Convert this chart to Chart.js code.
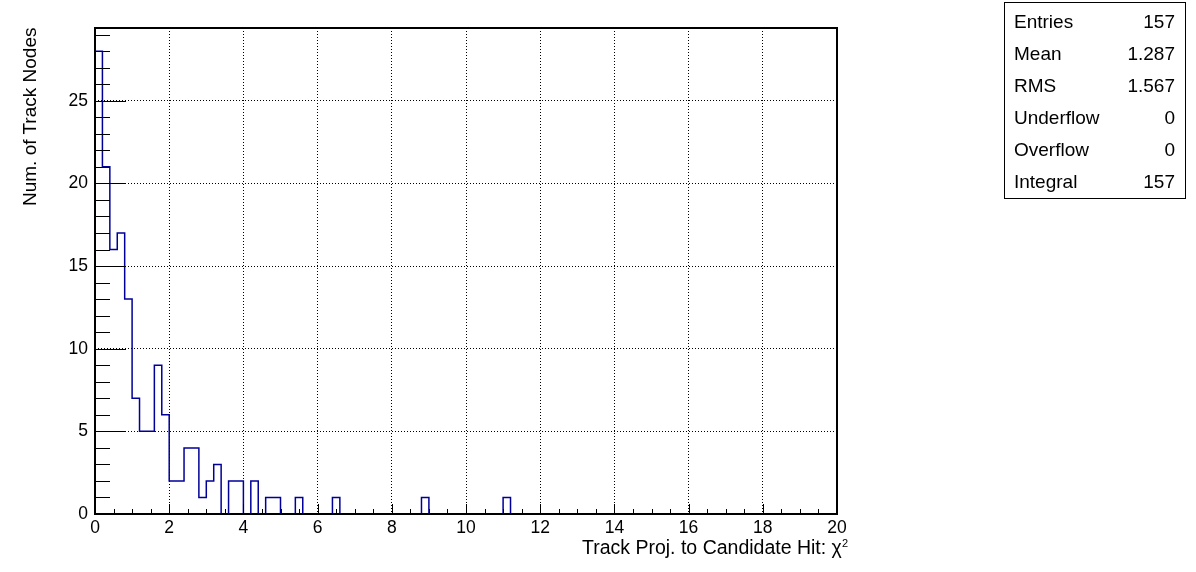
<!DOCTYPE html>
<html>
<head>
<meta charset="utf-8">
<script src="https://cdn.jsdelivr.net/npm/chart.js@4"></script>
<style>
  body { margin: 0; background: #fff; }
  #wrap { position: relative; width: 1196px; height: 572px; font-family: "Liberation Sans", Arial, sans-serif; }
  #stats { position: absolute; left: 1004px; top: 2px; width: 182px; height: 197px; border: 1px solid #000; box-sizing: border-box; font-size: 19px; color: #000; }
  .row { position: absolute; left: 9px; right: 10px; height: 22px; }
  .row span:last-child { position: absolute; right: 0; }
  #ytitle { position: absolute; left: 19px; top: 28px; font-size: 19px; line-height: 22px; white-space: nowrap; transform-origin: 0 0; }
  #xtitle { position: absolute; right: 348px; top: 536px; font-size: 19.5px; white-space: nowrap; }
  #xtitle sup { font-size: 11px; vertical-align: 7px; }
</style>
</head>
<body>
<div id="wrap">
  <canvas id="c" width="1196" height="572"></canvas>
  <div id="ytitle">Num. of Track Nodes</div>
  <div id="xtitle">Track Proj. to Candidate Hit: χ<sup>2</sup></div>
  <div id="stats"></div>
</div>
<script>
// ===== data =====
const binStart = 0;
const binWidth = 0.2;
const counts = [
  28, 21, 16, 17, 13, 7, 5, 5, 9, 6,
  2, 2, 4, 4, 1, 2, 3, 0, 2, 2,
  0, 2, 0, 1, 1, 0, 0, 1, 0, 0,
  0, 0, 1, 0, 0, 0, 0, 0, 0, 0,
  0, 0, 0, 0, 1, 0, 0, 0, 0, 0,
  0, 0, 0, 0, 0, 1, 0, 0, 0, 0,
  0, 0, 0, 0, 0, 0, 0, 0, 0, 0,
  0, 0, 0, 0, 0, 0, 0, 0, 0, 0,
  0, 0, 0, 0, 0, 0, 0, 0, 0, 0,
  0, 0, 0, 0, 0, 0, 0, 0, 0, 0
];
const xTicks = [0, 2, 4, 6, 8, 10, 12, 14, 16, 18, 20];
const yTicks = [0, 5, 10, 15, 20, 25];
const xMinorStep = 0.5;
const yMinorStep = 1;
const statNames = ["Entries", "Mean", "RMS", "Underflow", "Overflow", "Integral"];
const statValues = ["157", "1.287", "1.567", "0", "0", "157"];

// ===== stats box =====
const stats = document.getElementById("stats");
statNames.forEach((name, i) => {
  const row = document.createElement("div");
  row.className = "row";
  row.style.top = (8 + i * 32) + "px";
  row.innerHTML = `<span>${name}</span><span>${statValues[i]}</span>`;
  stats.appendChild(row);
});

// y title: rotate, top end at frame top
const yt = document.getElementById("ytitle");
yt.style.transform = `translate(0, ${yt.offsetWidth}px) rotate(-90deg)`;

// histogram outline as stepped points
const pts = [{ x: binStart, y: 0 }];
counts.forEach((v, i) => pts.push({ x: binStart + i * binWidth, y: v }));
pts.push({ x: binStart + counts.length * binWidth, y: counts[counts.length - 1] });

// inner ticks + frame, ROOT style
const frame = {
  id: "frame",
  afterDatasetsDraw(chart) {
    const { ctx, chartArea: a, scales: { x, y } } = chart;
    ctx.save();
    ctx.strokeStyle = "#000";
    ctx.lineWidth = 1;
    ctx.beginPath();
    for (let v = x.min; v <= x.max + 1e-9; v += xMinorStep) {
      const px = Math.round(x.getPixelForValue(v)) + 0.5;
      const len = xTicks.includes(Math.round(v * 10) / 10) ? 10 : 5;
      ctx.moveTo(px, a.bottom);
      ctx.lineTo(px, a.bottom - len);
    }
    for (let v = 0; v <= 29; v += yMinorStep) {
      const py = Math.round(y.getPixelForValue(v)) + 0.5;
      const len = yTicks.includes(v) ? 31 : 15;
      ctx.moveTo(a.left, py);
      ctx.lineTo(a.left + len, py);
    }
    ctx.stroke();
    ctx.lineWidth = 2;
    ctx.strokeRect(a.left, a.top, a.right - a.left, a.bottom - a.top);
    ctx.restore();
  }
};

new Chart(document.getElementById("c"), {
  type: "line",
  data: {
    datasets: [{
      data: pts,
      stepped: "before",
      borderColor: "#000099",
      borderWidth: 1.5,
      pointRadius: 0,
      fill: false
    }]
  },
  options: {
    responsive: false,
    animation: false,
    layout: { padding: { top: 28, right: 359, left: 0, bottom: 0 } },
    plugins: { legend: { display: false }, tooltip: { enabled: false } },
    scales: {
      x: {
        type: "linear",
        min: 0,
        max: 20,
        afterBuildTicks: s => { s.ticks = xTicks.map(v => ({ value: v })); },
        afterFit: s => { s.height = 58; },
        grid: { color: "#000", lineWidth: 1, drawTicks: false },
        border: { display: false, dash: [1, 2] },
        ticks: { color: "#000", padding: 4, maxRotation: 0, font: { family: "Liberation Sans", size: 17.5 } }
      },
      y: {
        min: 0,
        max: 29.4,
        afterBuildTicks: s => { s.ticks = yTicks.map(v => ({ value: v })); },
        afterFit: s => { s.width = 95; },
        grid: { color: "#000", lineWidth: 1, drawTicks: false },
        border: { display: false, dash: [1, 2] },
        ticks: { color: "#000", padding: 7, font: { family: "Liberation Sans", size: 17.5 } }
      }
    }
  },
  plugins: [frame]
});
</script>
</body>
</html>
